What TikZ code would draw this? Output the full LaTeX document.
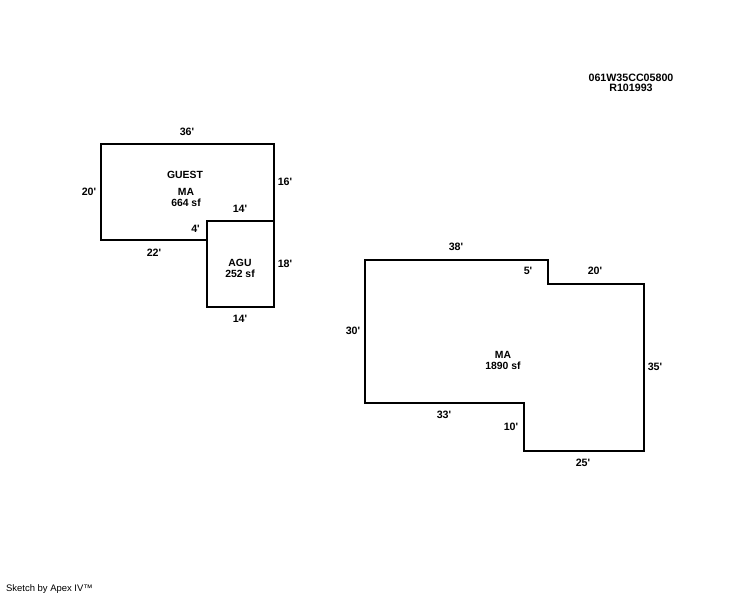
\documentclass[tikz,border=0pt]{standalone}
\usepackage{fontspec}
\setmainfont{Liberation Sans}
\newcommand{\ft}[1]{#1\textquotesingle}
\tikzset{
wall/.style={line width=1.6pt,line join=miter},
thickwall/.style={line width=2pt,line join=miter},
dim/.style={font=\bfseries\fontsize{8pt}{9pt}\selectfont,inner sep=0pt},
area/.style={font=\bfseries\fontsize{7.8pt}{9pt}\selectfont,inner sep=0pt},
}
\begin{document}
\begin{tikzpicture}[x=0.75pt,y=-0.75pt]
\useasboundingbox (0,0) rectangle (744,595);
\fill[white] (0,0) rectangle (744,595);
% guest house
\begin{scope}
\draw[wall] (101,144) -- (274,144) -- (274,307) -- (207,307) -- (207,240) -- (101,240) -- cycle;
\draw[thickwall] (100,144) -- (275,144);
\draw[thickwall] (100,240) -- (207,240);
\draw[wall,line width=1.3pt] (207,240) -- (207,221) -- (274,221);
\node[area] (guest) at (185,175) {GUEST};
\node[area] (guestma) at (186,192) {MA};
\node[area] (guestsf) at (186,203) {664 sf};
\node[area] (agu) at (240,263) {AGU};
\node[area] (agusf) at (240,274) {252 sf};
\node[dim] (d36) at (187,132) {\ft{36}};
\node[dim] (d20) at (89,192) {\ft{20}};
\node[dim] (d16) at (285,182) {\ft{16}};
\node[dim] (d14a) at (240,209) {\ft{14}};
\node[dim] (d4) at (195.5,229) {\ft{4}};
\node[dim] (d22) at (154,253) {\ft{22}};
\node[dim] (d18) at (285,264) {\ft{18}};
\node[dim] (d14b) at (240,319) {\ft{14}};
\end{scope}
% main house
\begin{scope}
\draw[wall] (365,260) -- (548,260) -- (548,284) -- (644,284) -- (644,451) -- (524,451) -- (524,403) -- (365,403) -- cycle;
\node[area] (mainma) at (503,355) {MA};
\node[area] (mainsf) at (503,366) {1890 sf};
\node[dim] (d38) at (456,247) {\ft{38}};
\node[dim] (d5) at (528,271) {\ft{5}};
\node[dim] (d20b) at (595,271) {\ft{20}};
\node[dim] (d30) at (353,331) {\ft{30}};
\node[dim] (d35) at (655,367) {\ft{35}};
\node[dim] (d33) at (444,415) {\ft{33}};
\node[dim] (d10) at (511,427) {\ft{10}};
\node[dim] (d25) at (583,463) {\ft{25}};
\end{scope}
\node[dim] (parcel) at (631,78) {061W35CC05800};
\node[dim] (record) at (631,88) {R101993};
\node[inner sep=0pt,font=\fontsize{7.1pt}{8pt}\selectfont] (apex) at (49.5,589) {Sketch by Apex IV™};
\end{tikzpicture}
\end{document}
